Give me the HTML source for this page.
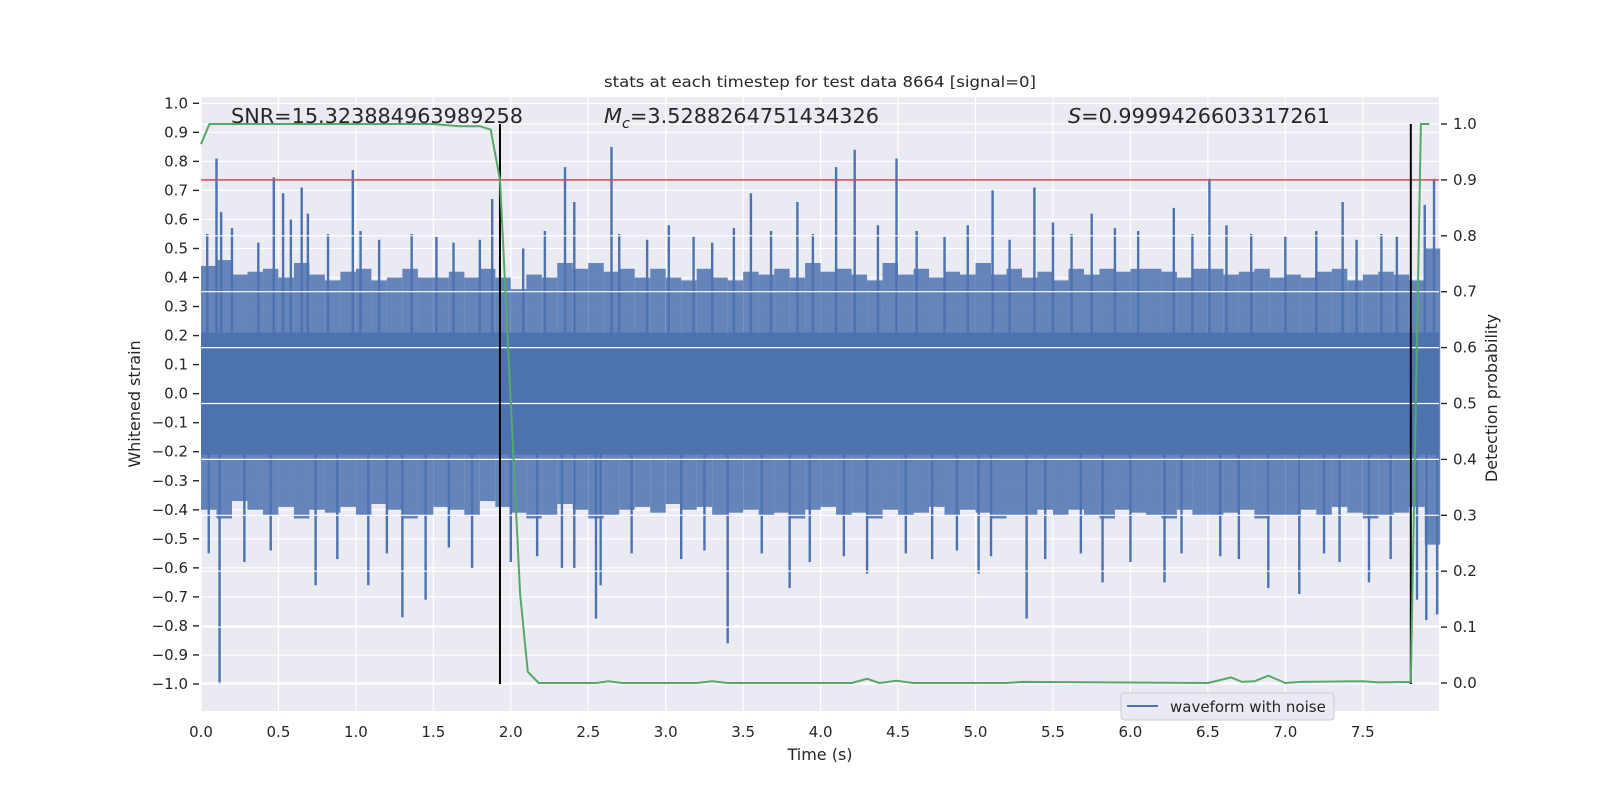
<!DOCTYPE html>
<html><head><meta charset="utf-8">
<style>
html,body{margin:0;padding:0;background:#fff;}
svg{display:block;font-family:"DejaVu Sans","Liberation Sans",sans-serif;}
</style></head>
<body>
<svg id="chart" width="1600" height="800" viewBox="0 0 1600 800" xmlns="http://www.w3.org/2000/svg">
<rect x="0" y="0" width="1600" height="800" fill="#fff"/>
<rect x="201" y="97" width="1238" height="614" fill="#EAEAF2"/>
<g id="gridL"></g>
<g id="wave"></g>
<g id="gridR"></g>
<g id="lines"></g>
<g id="axes"></g>
<text x="820" y="87" text-anchor="middle" font-size="15" fill="#262626" textLength="432" lengthAdjust="spacingAndGlyphs">stats at each timestep for test data 8664 [signal=0]</text>
<text x="231" y="123" font-size="20" fill="#262626" textLength="292" lengthAdjust="spacingAndGlyphs">SNR=15.323884963989258</text>
<text x="604" y="123" font-size="20" fill="#262626" textLength="275" lengthAdjust="spacingAndGlyphs"><tspan font-style="italic">M</tspan><tspan font-style="italic" font-size="14" dy="5">c</tspan><tspan dy="-5">=3.5288264751434326</tspan></text>
<text x="1068" y="123" font-size="20" fill="#262626" textLength="262" lengthAdjust="spacingAndGlyphs"><tspan font-style="italic">S</tspan>=0.9999426603317261</text>
<text x="820" y="760" text-anchor="middle" font-size="16" fill="#262626">Time (s)</text>
<text transform="translate(140,404) rotate(-90)" text-anchor="middle" font-size="16" fill="#262626">Whitened strain</text>
<text transform="translate(1497,398) rotate(-90)" text-anchor="middle" font-size="16" fill="#262626">Detection probability</text>
<g>
<rect x="1121" y="693" width="213" height="27" rx="3" fill="#EAEAF2" stroke="#cccccc" stroke-width="1"/>
<line x1="1127" y1="706" x2="1158" y2="706" stroke="#4C72B0" stroke-width="2"/>
<text x="1170" y="712" font-size="15" fill="#262626">waveform with noise</text>
</g>
</svg>
<script>
// ---- data ----
const binStarts = [0.0,0.1,0.2,0.3,0.4,0.5,0.6,0.7,0.8,0.9,1.0,1.1,1.2,1.3,1.4,1.5,1.6,1.7,1.8,1.9,2.0,2.1,2.2,2.3,2.4,2.5,2.6,2.7,2.8,2.9,3.0,3.1,3.2,3.3,3.4,3.5,3.6,3.7,3.8,3.9,4.0,4.1,4.2,4.3,4.4,4.5,4.6,4.7,4.8,4.9,5.0,5.1,5.2,5.3,5.4,5.5,5.6,5.7,5.8,5.9,6.0,6.1,6.2,6.3,6.4,6.5,6.6,6.7,6.8,6.9,7.0,7.1,7.2,7.3,7.4,7.5,7.6,7.7,7.8,7.9];
const envUpper = [0.44,0.46,0.41,0.42,0.43,0.40,0.45,0.41,0.39,0.42,0.43,0.39,0.40,0.43,0.40,0.40,0.42,0.40,0.43,0.40,0.36,0.41,0.40,0.45,0.43,0.45,0.42,0.43,0.40,0.43,0.40,0.39,0.43,0.40,0.39,0.42,0.41,0.43,0.40,0.45,0.42,0.43,0.41,0.39,0.45,0.41,0.43,0.40,0.42,0.41,0.45,0.41,0.43,0.40,0.42,0.39,0.43,0.41,0.43,0.42,0.43,0.43,0.42,0.40,0.43,0.43,0.41,0.42,0.43,0.40,0.41,0.40,0.42,0.43,0.39,0.41,0.42,0.41,0.39,0.50];
const envLower = [-0.40,-0.43,-0.37,-0.40,-0.42,-0.39,-0.43,-0.40,-0.41,-0.39,-0.42,-0.38,-0.40,-0.43,-0.42,-0.39,-0.40,-0.42,-0.37,-0.39,-0.41,-0.43,-0.42,-0.38,-0.40,-0.43,-0.42,-0.40,-0.39,-0.41,-0.38,-0.40,-0.39,-0.42,-0.41,-0.40,-0.42,-0.41,-0.43,-0.40,-0.39,-0.42,-0.41,-0.43,-0.40,-0.42,-0.41,-0.39,-0.42,-0.40,-0.41,-0.43,-0.42,-0.42,-0.40,-0.42,-0.40,-0.42,-0.43,-0.40,-0.41,-0.42,-0.43,-0.40,-0.42,-0.42,-0.41,-0.40,-0.43,-0.42,-0.42,-0.40,-0.42,-0.39,-0.41,-0.43,-0.42,-0.41,-0.39,-0.52];
const coreUpper = 0.21;
const coreLower = -0.21;
const spikeTimes = [0.10,0.13,0.47,0.53,0.65,0.69,0.98,1.88,2.35,2.41,2.65,3.55,3.85,4.10,4.22,4.49,5.11,5.38,5.75,6.28,6.51,7.37,7.90,7.96,
                    0.12,0.74,1.08,1.30,1.45,1.75,2.41,2.55,2.58,3.40,3.80,4.30,5.02,5.33,5.82,6.22,6.89,7.09,7.54,7.85,7.91,7.98,
                    0.04,0.20,0.37,0.58,0.82,1.03,1.15,1.36,1.52,1.63,1.80,2.08,2.22,2.70,2.88,3.02,3.18,3.30,3.44,3.68,3.95,4.37,4.62,4.80,4.95,5.22,5.50,5.62,5.90,6.05,6.40,6.62,6.78,7.00,7.20,7.46,7.62,7.72,
                    0.05,0.28,0.45,0.88,1.20,1.60,2.00,2.17,2.33,2.78,3.10,3.25,3.62,3.93,4.15,4.55,4.72,4.88,5.10,5.45,5.68,6.00,6.33,6.58,6.70,7.25,7.35,7.68];
const spikeValues = [0.81,0.625,0.745,0.69,0.71,0.62,0.77,0.67,0.78,0.66,0.85,0.69,0.66,0.78,0.84,0.81,0.70,0.71,0.62,0.64,0.74,0.66,0.65,0.74,
                    -1.0,-0.66,-0.66,-0.77,-0.71,-0.60,-0.60,-0.775,-0.66,-0.86,-0.67,-0.62,-0.62,-0.775,-0.65,-0.65,-0.67,-0.69,-0.65,-0.71,-0.78,-0.76,
                    0.55,0.57,0.52,0.60,0.55,0.56,0.53,0.55,0.54,0.52,0.53,0.50,0.56,0.55,0.53,0.58,0.54,0.52,0.57,0.56,0.55,0.58,0.56,0.54,0.58,0.53,0.59,0.55,0.57,0.56,0.55,0.58,0.55,0.54,0.56,0.53,0.55,0.54,
                    -0.55,-0.58,-0.54,-0.57,-0.55,-0.53,-0.58,-0.56,-0.60,-0.55,-0.57,-0.54,-0.55,-0.58,-0.56,-0.55,-0.57,-0.54,-0.56,-0.57,-0.55,-0.58,-0.55,-0.56,-0.57,-0.55,-0.58,-0.57];
const probTimes = [0.0,0.055,1.5,1.67,1.80,1.87,1.93,2.06,2.11,2.18,2.55,2.63,2.72,3.2,3.3,3.4,4.2,4.30,4.38,4.49,4.6,5.2,5.3,6.5,6.65,6.72,6.80,6.89,7.0,7.1,7.5,7.60,7.81,7.875,7.93];
const probValues = [0.964,1.0,1.0,0.996,0.996,0.99,0.90,0.16,0.02,0.0,0.0,0.003,0.0,0.0,0.003,0.0,0.0,0.0075,0.0,0.004,0.0,0.0,0.002,0.0,0.01,0.002,0.003,0.013,0.0,0.002,0.003,0.001,0.002,1.0,1.0];
const threshold = 0.9;
const markerTimes = [1.93,7.81];
const xTicks = [0.0,0.5,1.0,1.5,2.0,2.5,3.0,3.5,4.0,4.5,5.0,5.5,6.0,6.5,7.0,7.5];
const yTicks = [-1.0,-0.9,-0.8,-0.7,-0.6,-0.5,-0.4,-0.3,-0.2,-0.1,0.0,0.1,0.2,0.3,0.4,0.5,0.6,0.7,0.8,0.9,1.0];
const y2Ticks = [0.0,0.1,0.2,0.3,0.4,0.5,0.6,0.7,0.8,0.9,1.0];

// ---- scales ----
const X0=201, X1=1439, T0=0, T1=7.992;
const sx = t => X0 + (t-T0)/(T1-T0)*(X1-X0);
const sy = v => 684 - 290.35*(v+1);
const sy2 = p => 683 - 559*p;
const NS='http://www.w3.org/2000/svg';
function mk(tag, parent, attrs){const e=document.createElementNS(NS,tag);for(const k in attrs)e.setAttribute(k,attrs[k]);parent.appendChild(e);return e;}
const gridL=document.getElementById('gridL'), gridR=document.getElementById('gridR'), wave=document.getElementById('wave'), lines=document.getElementById('lines'), axes=document.getElementById('axes');

yTicks.forEach(v=>{
  const g=mk('line',gridL,{x1:X0,x2:X1,y1:sy(v),y2:sy(v),stroke:'#fff','stroke-width':1.2});
  
  
  const t=mk('line',axes,{x1:193,x2:199,y1:sy(v),y2:sy(v),stroke:'#262626','stroke-width':1.4});
  
  
  const l=mk('text',axes,{x:188,y:sy(v)+5,'text-anchor':'end','font-size':15,fill:'#262626'});
  
  
  l.textContent = (v<0?'\u2212':'')+Math.abs(v).toFixed(1);
});
xTicks.forEach(t=>{
  const g=mk('line',gridL,{x1:sx(t),x2:sx(t),y1:97,y2:711,stroke:'#fff','stroke-width':1.2});
  
  
  const l=mk('text',axes,{x:sx(t),y:737,'text-anchor':'middle','font-size':15,fill:'#262626'});
  
  
  l.textContent=t.toFixed(1);
});

const bw = 0.1;
binStarts.forEach((t,i)=>{
  const x=sx(t), w=sx(t+bw)-x;
  const r=mk('rect',wave,{x:x,y:sy(envUpper[i]),width:w,height:sy(envLower[i])-sy(envUpper[i]),fill:'#4C72B0','fill-opacity':0.85});
  
  
});
const core=mk('rect',wave,{x:X0,y:sy(coreUpper),width:X1-X0,height:sy(coreLower)-sy(coreUpper),fill:'#4C72B0'});


spikeTimes.forEach((t,i)=>{
  const v=spikeValues[i];
  const s=mk('line',wave,{x1:sx(t),x2:sx(t),y1:sy(0),y2:sy(v),stroke:'#4C72B0','stroke-width':2.4});
  
  
});

y2Ticks.forEach(p=>{
  const g=mk('line',gridR,{x1:X0,x2:X1,y1:sy2(p),y2:sy2(p),stroke:'#fff','stroke-width':1.2});
  
  
  const t=mk('line',axes,{x1:1441,x2:1447,y1:sy2(p),y2:sy2(p),stroke:'#262626','stroke-width':1.4});
  
  
  const l=mk('text',axes,{x:1453,y:sy2(p)+5,'font-size':15,fill:'#262626'});
  
  
  l.textContent=p.toFixed(1);
});

const th=mk('line',lines,{x1:X0,x2:X1,y1:sy2(threshold),y2:sy2(threshold),stroke:'#C44E52','stroke-width':1.5});


markerTimes.forEach(t=>{
  const m=mk('line',lines,{x1:sx(t),x2:sx(t),y1:sy2(1.0),y2:sy(-1.0),stroke:'#000','stroke-width':2});
  
  
});
const pts=probTimes.map((t,i)=>sx(t).toFixed(1)+','+sy2(probValues[i]).toFixed(1)).join(' ');
const pl=mk('polyline',lines,{points:pts,fill:'none',stroke:'#55A868','stroke-width':2});


</script>
</body></html>
